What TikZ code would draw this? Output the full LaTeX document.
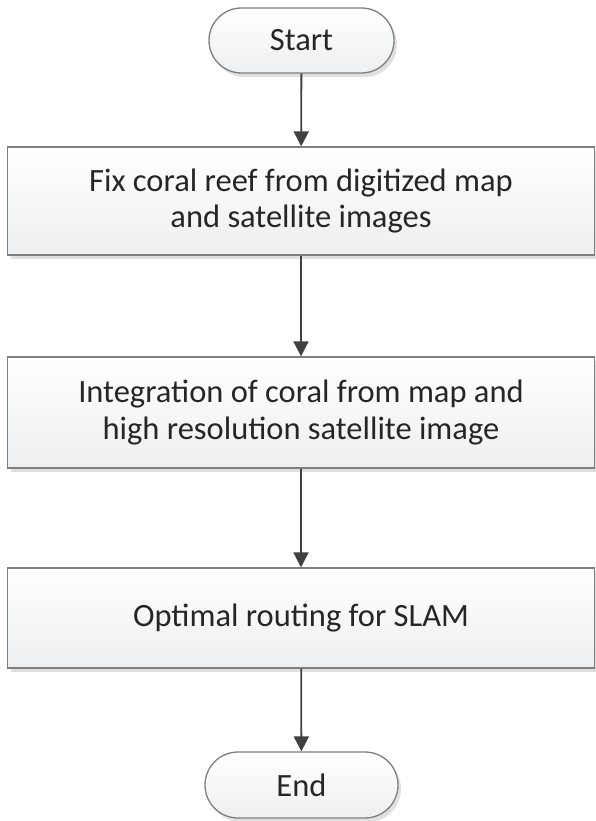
\documentclass[tikz,border=0pt]{standalone}
\usepackage{fontspec}
\setmainfont{Carlito}
\usetikzlibrary{shapes.misc,shadows,arrows.meta}
\definecolor{edgegray}{HTML}{7F7F7F}
\definecolor{txtgray}{HTML}{262626}
\definecolor{arrgray}{HTML}{404040}
\definecolor{fillbot}{HTML}{EDEFF0}
\tikzset{
  base/.style={draw=edgegray, line width=1.3pt, top color=white, bottom color=fillbot,
    text=txtgray, align=center, inner sep=0pt,
    font=\fontsize{32.5}{36.5}\selectfont,
    drop shadow={shadow xshift=3pt, shadow yshift=-4pt, fill=black!12, opacity=1}},
  procbox/.style={base, rectangle, minimum width=587pt},
  term/.style={base, rounded rectangle},
  conn/.style={draw=arrgray, line width=1.8pt, -{Triangle[length=15pt,width=15pt]}}
}
\begin{document}
\begin{tikzpicture}[x=1pt,y=-1pt]
\useasboundingbox (0,0) rectangle (595,821);
\node[term, minimum width=185pt, minimum height=65pt] (start) at (301.5,40.5) {Start};
\node[procbox, minimum height=108pt] (b1) at (301,201) {Fix coral reef from digitized map\\and satellite images};
\node[procbox, minimum height=111pt] (b2) at (301,412.5) {Integration of coral from map and\\high resolution satellite image};
\node[procbox, minimum height=100pt] (b3) at (301,618) {Optimal routing for SLAM};
\node[term, minimum width=193pt, minimum height=66pt] (end) at (301.5,785) {End};
\draw[conn] (start) -- (b1);
\draw[conn] (b1) -- (b2);
\draw[conn] (b2) -- (b3);
\draw[conn] (b3) -- (end);
\end{tikzpicture}
\end{document}
